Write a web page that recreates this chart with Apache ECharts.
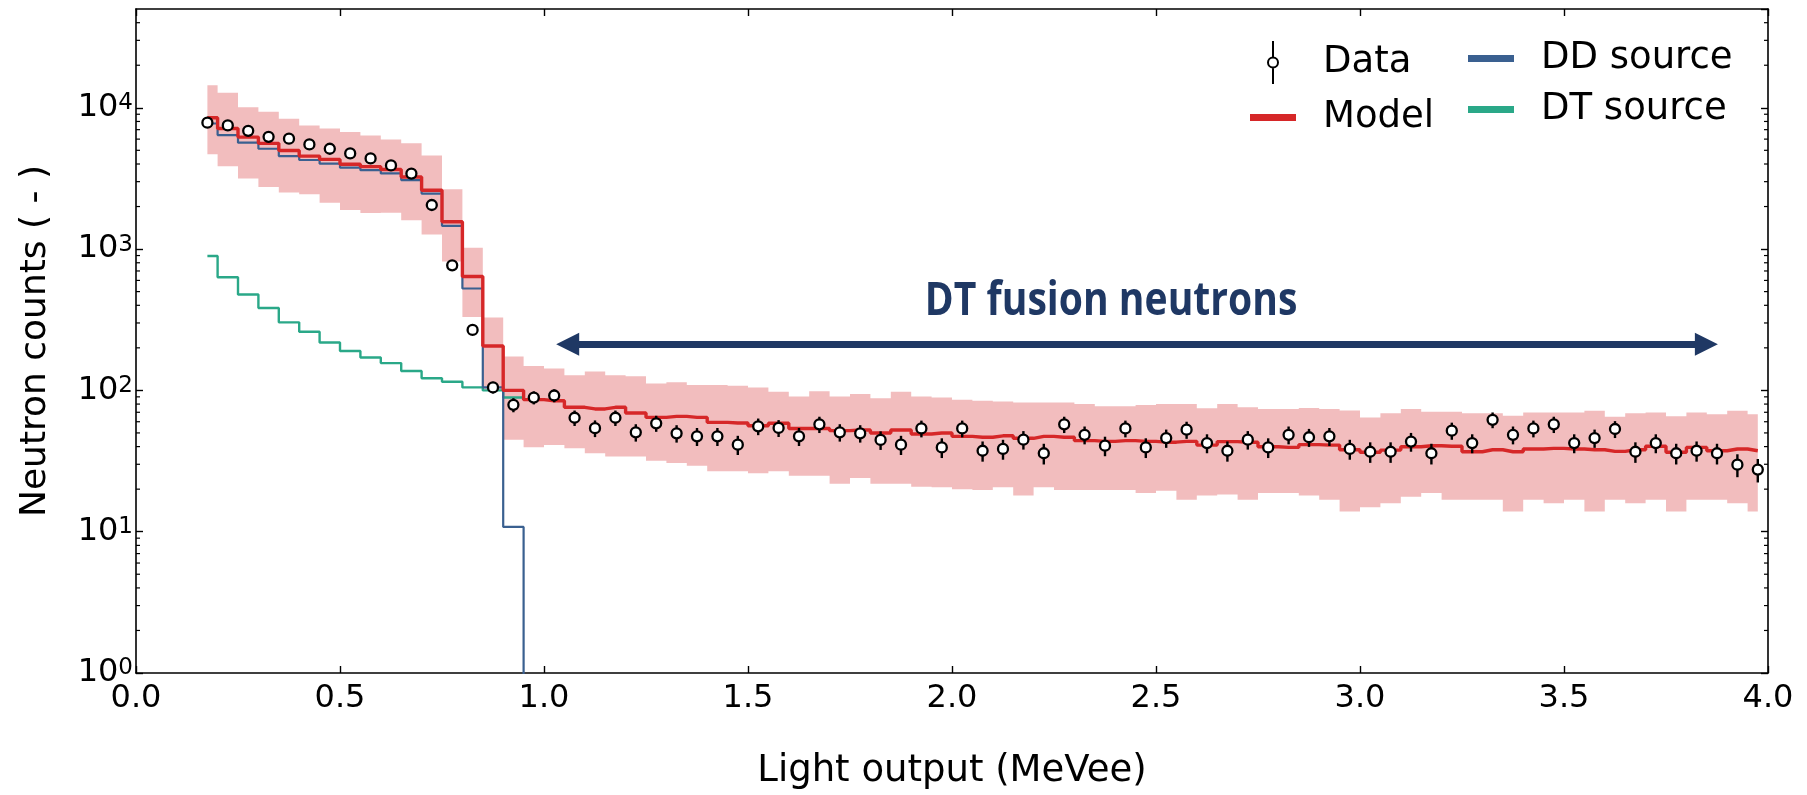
<!DOCTYPE html>
<html>
<head>
<meta charset="utf-8">
<script src="https://cdn.jsdelivr.net/npm/echarts@6/dist/echarts.min.js"></script>
<style>
  html, body { margin: 0; padding: 0; background: #ffffff; }
  #chart { width: 1807px; height: 795px; }
</style>
</head>
<body>
<div id="chart"></div>
<script>
// Light-output bin centres (MeVee), 0.05 MeVee wide bins
const binCenters = [
  0.175, 0.225, 0.275, 0.325, 0.375, 0.425, 0.475, 0.525, 0.575, 0.625, 0.675, 0.725, 0.775, 0.825, 0.875, 0.925, 0.975,
  1.025, 1.075, 1.125, 1.175, 1.225, 1.275, 1.325, 1.375, 1.425, 1.475, 1.525, 1.575, 1.625, 1.675, 1.725, 1.775, 1.825, 1.875, 1.925, 1.975,
  2.025, 2.075, 2.125, 2.175, 2.225, 2.275, 2.325, 2.375, 2.425, 2.475, 2.525, 2.575, 2.625, 2.675, 2.725, 2.775, 2.825, 2.875, 2.925, 2.975,
  3.025, 3.075, 3.125, 3.175, 3.225, 3.275, 3.325, 3.375, 3.425, 3.475, 3.525, 3.575, 3.625, 3.675, 3.725, 3.775, 3.825, 3.875, 3.925, 3.975
];

// Measured neutron counts and their uncertainties
const dataCounts = [
  7840, 7500, 6870, 6230, 6040, 5500, 5130, 4750, 4380, 3910, 3420, 2050, 768, 268, 105, 79, 89,
  92, 64, 54, 64, 50.5, 58.5, 49.7, 47.3, 47.3, 41.3, 55.7, 54.2, 47.3, 57.5, 50.5, 49.7, 44.6, 41.3, 53.8, 39.5,
  53.8, 37.4, 38.5, 44.8, 35.9, 57.5, 48.5, 40.6, 53.8, 39.5, 46.0, 52.7, 42.4, 37.4, 44.8, 39.5, 48.5, 46.6, 47.3, 38.5,
  36.8, 36.8, 43.4, 35.9, 51.9, 42.4, 61.9, 48.5, 53.8, 57.5, 42.4, 46.0, 53.3, 36.8, 42.4, 35.9, 37.4, 35.9, 29.8, 27.5
];
const dataErrors = [
  89, 87, 83, 79, 78, 74, 72, 69, 66, 63, 58, 45, 28, 16, 10, 9, 9.4,
  9.6, 8, 7.3, 8, 7.1, 7.6, 7.0, 6.9, 6.9, 6.4, 7.5, 7.4, 6.9, 7.6, 7.1, 7.0, 6.7, 6.4, 7.3, 6.3,
  7.3, 6.1, 6.2, 6.7, 6.0, 7.6, 7.0, 6.4, 7.3, 6.3, 6.8, 7.3, 6.5, 6.1, 6.7, 6.3, 7.0, 6.8, 6.9, 6.2,
  6.1, 6.1, 6.6, 6.0, 7.2, 6.5, 7.9, 7.0, 7.3, 7.6, 6.5, 6.8, 7.3, 6.1, 6.5, 6.0, 6.1, 6.0, 5.5, 5.2
];

// Model prediction with its uncertainty band
const modelCounts = [
  8490, 7140, 6200, 5600, 4990, 4550, 4310, 3980, 3830, 3660, 3240, 2610, 1560, 640, 206, 100, 86,
  84.5, 75.9, 73.9, 75.9, 69.2, 64.4, 65.5, 64.4, 59.4, 58.8, 56.2, 58.5, 53.8, 53.8, 51.9, 52.4, 49.9, 52.4, 49.1, 49.9,
  47.3, 46.6, 47.7, 45.8, 47.3, 46.6, 44.1, 43.6, 44.1, 43.6, 43.0, 43.6, 41.0, 43.4, 43.0, 39.9, 39.5, 41.3, 41.0, 38.0,
  36.5, 37.8, 39.9, 40.6, 40.2, 36.8, 38.0, 36.8, 38.5, 38.9, 38.5, 38.0, 37.0, 38.0, 40.2, 36.5, 39.5, 37.4, 38.5, 37.4
];
const modelUpper = [
  14450, 12770, 10100, 9370, 8360, 7500, 7140, 6730, 6370, 5970, 5600, 4600, 2650, 1020, 328, 174, 149,
  143, 128, 136, 128, 126, 112, 114, 109, 109, 108, 105, 97.7, 90.7, 98.4, 90.7, 94.2, 87.8, 97.7, 90.7, 89.1,
  85.9, 84.5, 83.6, 82.2, 82.2, 82.2, 80.0, 77.1, 77.1, 78.7, 80.0, 80.0, 74.6, 80.0, 75.9, 73.9, 73.9, 75.2, 73.9, 72.0,
  64.4, 68.8, 73.9, 70.6, 70.6, 68.8, 68.8, 66.2, 69.8, 69.8, 69.8, 71.8, 65.1, 68.8, 69.8, 65.5, 69.8, 67.7, 71.8, 67.7
];
const modelLower = [
  4680, 3860, 3160, 2750, 2510, 2440, 2130, 1890, 1800, 1810, 1600, 1270, 817, 331, 102, 44.8, 39.6,
  41, 38.9, 35.9, 34.0, 34.0, 31.8, 30.6, 29.3, 26.8, 26.8, 25.9, 26.8, 24.9, 24.9, 21.8, 24.0, 21.8, 21.8, 20.8, 20.6,
  20.0, 19.7, 20.6, 18.0, 20.6, 19.7, 19.7, 19.7, 19.7, 18.8, 19.5, 16.8, 18.0, 18.3, 16.8, 18.8, 18.8, 18.0, 16.8, 13.9,
  14.9, 15.9, 17.7, 18.8, 16.8, 16.8, 16.8, 13.9, 16.8, 15.9, 16.8, 13.9, 16.8, 15.9, 16.8, 13.9, 16.8, 16.8, 15.9, 13.9
];

// Source components over the first 17 bins (0.175 - 0.975 MeVee)
const ddCounts = [7740, 6410, 5660, 5130, 4550, 4270, 4020, 3770, 3620, 3430, 3080, 2470, 1460, 526, 105, 10.8, 0];
const dtCounts = [893, 632, 477, 383, 303, 260, 218, 190, 171, 156, 137, 122, 115, 105, 100, 89, 86];

// Annotation: energy range attributed to DT fusion neutrons
const dtRange = [1.058, 3.849];
const dtArrowLevel = 212;
const dtLabelPos = [2.39, 420];
const dtLabel = 'DT fusion neutrons';

const FONT = '"DejaVu Sans", "Liberation Sans", sans-serif';
const RED = '#d62728';
const BLUE = '#3a6090';
const GREEN = '#2aa888';
const NAVY = '#1f3864';
const BAND = '#f2bdbe';
const Y_MIN = 1, Y_MAX = 50000;
// zero counts cannot sit on a log axis; park them far below the visible range
const LOG_FLOOR = 1e-3;

const pairs = (ys) => ys.map((y, i) => [binCenters[i], y > 0 ? y : LOG_FLOOR]);

// bin edges used by the step-mid band (half bins at both ends)
function binLeft(i) { return i === 0 ? binCenters[0] : (binCenters[i - 1] + binCenters[i]) / 2; }
function binRight(i) { const n = binCenters.length; return i === n - 1 ? binCenters[n - 1] : (binCenters[i] + binCenters[i + 1]) / 2; }

// minor tick values of the log axis (2..9 x 10^k)
const minorTickValues = [];
for (let k = 0; k <= 4; k++) {
  for (let m = 2; m <= 9; m++) {
    const v = m * Math.pow(10, k);
    if (v < Y_MAX) minorTickValues.push([v]);
  }
}

const dataIcon = 'path://M5,0L5,16.5M5,26.5L5,43M10,21.5A5,5,0,1,1,0,21.5A5,5,0,1,1,10,21.5Z';
const barIcon = 'path://M0,0L46,0L46,7L0,7Z';

const legendCommon = {
  orient: 'vertical',
  top: 40,
  padding: 0,
  itemWidth: 46,
  itemHeight: 43,
  itemGap: 14,
  selectedMode: false,
  textStyle: { fontSize: 37, fontFamily: FONT, color: '#000', padding: [0, 0, 0, 22] }
};

const chart = echarts.init(document.getElementById('chart'), null, { renderer: 'canvas' });

const option = {
  animation: false,
  backgroundColor: '#ffffff',
  grid: { left: 136, right: 39, top: 9, bottom: 121 },
  legend: [
    Object.assign({}, legendCommon, {
      left: 1250,
      data: [
        { name: 'Data', icon: dataIcon, itemStyle: { color: '#ffffff', borderColor: '#000000', borderWidth: 2 } },
        { name: 'Model', icon: barIcon }
      ]
    }),
    Object.assign({}, legendCommon, {
      left: 1468,
      data: [
        { name: 'DD source', icon: barIcon },
        { name: 'DT source', icon: barIcon }
      ]
    })
  ],
  xAxis: [
    {
      type: 'value', position: 'bottom', min: 0, max: 4, interval: 0.5,
      name: 'Light output (MeVee)', nameLocation: 'middle', nameGap: 80,
      nameTextStyle: { fontSize: 37, fontFamily: FONT, color: '#000' },
      axisLine: { show: true, onZero: false, lineStyle: { color: '#000', width: 1.6 } },
      axisTick: { show: true, inside: true, length: 7, lineStyle: { color: '#000', width: 1.4 } },
      axisLabel: { fontSize: 32, fontFamily: FONT, color: '#000', margin: 10, formatter: (v) => v.toFixed(1) },
      splitLine: { show: false }
    },
    {
      type: 'value', position: 'top', min: 0, max: 4, interval: 0.5,
      axisLine: { show: true, onZero: false, lineStyle: { color: '#000', width: 1.6 } },
      axisTick: { show: true, inside: true, length: 7, lineStyle: { color: '#000', width: 1.4 } },
      axisLabel: { show: false },
      splitLine: { show: false }
    }
  ],
  yAxis: [
    {
      type: 'log', logBase: 10, position: 'left', min: Y_MIN, max: Y_MAX,
      name: 'Neutron counts ( - )', nameLocation: 'middle', nameRotate: 90, nameGap: 82,
      nameTextStyle: { fontSize: 36, fontFamily: FONT, color: '#000' },
      axisLine: { show: true, onZero: false, lineStyle: { color: '#000', width: 1.6 } },
      axisTick: { show: true, inside: true, length: 7, lineStyle: { color: '#000', width: 1.4 } },
      axisLabel: {
        margin: 3, showMaxLabel: false, fontFamily: FONT, color: '#000',
        formatter: (v) => '{b|10}{s|' + Math.round(Math.log10(v)) + '}',
        rich: {
          b: { fontSize: 32, fontFamily: FONT, color: '#000', lineHeight: 32, padding: [6, 0, 0, 0], verticalAlign: 'bottom' },
          s: { fontSize: 23, fontFamily: FONT, color: '#000', lineHeight: 26, verticalAlign: 'top' }
        }
      },
      splitLine: { show: false }
    },
    {
      type: 'log', logBase: 10, position: 'right', min: Y_MIN, max: Y_MAX,
      axisLine: { show: true, onZero: false, lineStyle: { color: '#000', width: 1.6 } },
      axisTick: { show: true, inside: true, length: 7, lineStyle: { color: '#000', width: 1.4 } },
      axisLabel: { show: false },
      splitLine: { show: false }
    }
  ],
  series: [
    {
      // model uncertainty band, drawn as one stepped polygon
      name: 'Model band',
      type: 'custom',
      silent: true,
      z: 1,
      data: [[binCenters[0], modelCounts[0]]],
      renderItem: (params, api) => {
        const pts = [];
        for (let i = 0; i < binCenters.length; i++) {
          pts.push(api.coord([binLeft(i), modelUpper[i]]));
          pts.push(api.coord([binRight(i), modelUpper[i]]));
        }
        for (let i = binCenters.length - 1; i >= 0; i--) {
          pts.push(api.coord([binRight(i), modelLower[i]]));
          pts.push(api.coord([binLeft(i), modelLower[i]]));
        }
        return { type: 'polygon', shape: { points: pts }, style: { fill: BAND } };
      }
    },
    {
      name: 'DT source',
      type: 'line',
      step: 'middle',
      z: 3,
      showSymbol: false,
      color: GREEN,
      lineStyle: { color: GREEN, width: 2.4 },
      data: pairs(dtCounts)
    },
    {
      name: 'DD source',
      type: 'line',
      step: 'middle',
      z: 4,
      showSymbol: false,
      clip: true,
      color: BLUE,
      lineStyle: { color: BLUE, width: 2.2 },
      data: pairs(ddCounts)
    },
    {
      name: 'Model',
      type: 'line',
      step: 'middle',
      z: 5,
      showSymbol: false,
      color: RED,
      lineStyle: { color: RED, width: 3.4 },
      data: pairs(modelCounts),
      markLine: {
        silent: true,
        animation: false,
        symbol: ['triangle', 'triangle'],
        symbolSize: [23, 23],
        label: { show: false },
        lineStyle: { color: NAVY, width: 7, type: 'solid' },
        emphasis: { disabled: true },
        data: [[{ coord: [dtRange[0], dtArrowLevel] }, { coord: [dtRange[1], dtArrowLevel] }]]
      }
    },
    {
      // Poisson error bars on the data
      name: 'Data errors',
      type: 'custom',
      silent: true,
      z: 6,
      data: binCenters.map((x, i) => [x, dataCounts[i], dataErrors[i]]),
      encode: { x: 0, y: 1 },
      renderItem: (params, api) => {
        const x = api.value(0), v = api.value(1), e = api.value(2);
        const p1 = api.coord([x, v - e]);
        const p2 = api.coord([x, v + e]);
        return { type: 'line', shape: { x1: p1[0], y1: p1[1], x2: p2[0], y2: p2[1] }, style: { stroke: '#000', lineWidth: 2.4 } };
      }
    },
    {
      name: 'Data',
      type: 'scatter',
      z: 7,
      symbol: 'circle',
      symbolSize: 10,
      itemStyle: { color: '#ffffff', borderColor: '#000000', borderWidth: 2.3, opacity: 1 },
      data: pairs(dataCounts)
    },
    {
      // minor ticks of the log axis on the left and right frame
      name: 'Minor ticks',
      type: 'custom',
      silent: true,
      clip: false,
      z: 8,
      data: minorTickValues,
      encode: { y: 0 },
      renderItem: (params, api) => {
        const v = api.value(0);
        const l = api.coord([0, v]);
        const r = api.coord([4, v]);
        return {
          type: 'group',
          children: [
            { type: 'line', shape: { x1: l[0], y1: l[1], x2: l[0] + 4, y2: l[1] }, style: { stroke: '#000', lineWidth: 1.2 } },
            { type: 'line', shape: { x1: r[0], y1: r[1], x2: r[0] - 4, y2: r[1] }, style: { stroke: '#000', lineWidth: 1.2 } }
          ]
        };
      }
    }
  ]
};

chart.setOption(option);

// Annotation text placed through the grid's coordinate system
const labelPx = chart.convertToPixel({ gridIndex: 0 }, dtLabelPos);
chart.setOption({
  graphic: [{
    type: 'text',
    x: labelPx[0],
    y: labelPx[1],
    scaleX: 0.85,
    silent: true,
    z: 20,
    style: {
      text: dtLabel,
      font: 'bold 46px "Open Sans", "Noto Sans", sans-serif',
      fill: NAVY,
      align: 'center',
      verticalAlign: 'middle'
    }
  }]
});
</script>
</body>
</html>
